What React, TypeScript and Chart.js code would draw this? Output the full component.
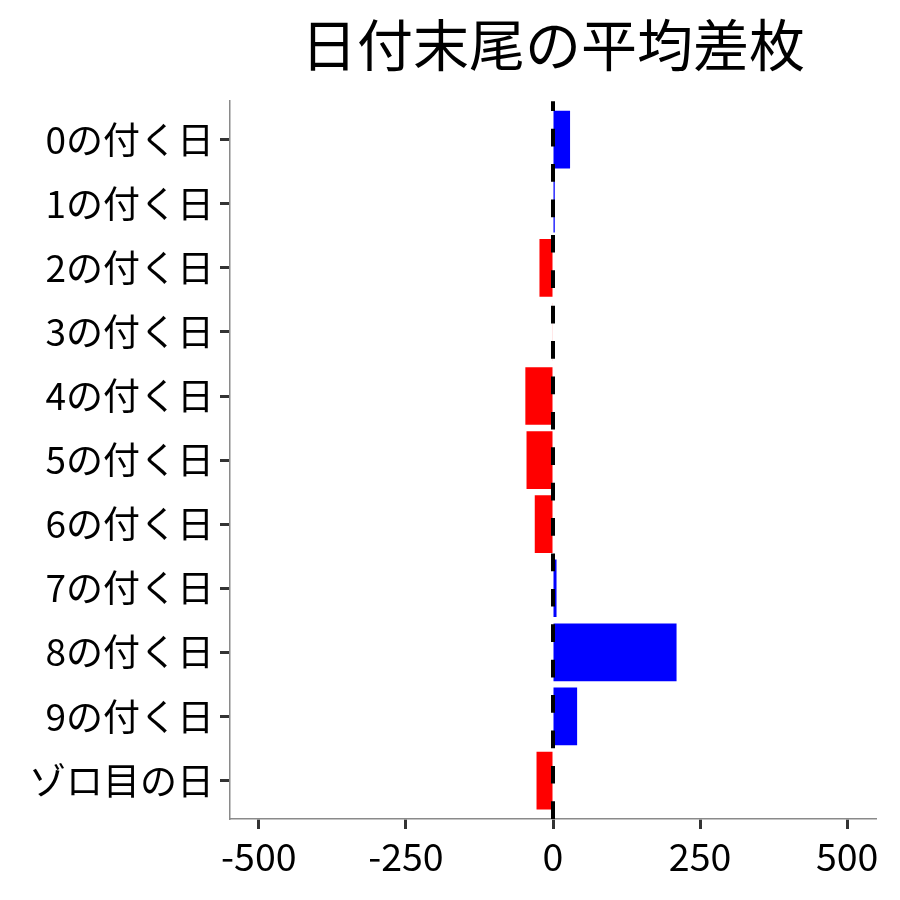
import React, { useEffect, useRef } from "react";
import { Chart, registerables } from "chart.js";

Chart.register(...registerables);

const TITLE = "日付末尾の平均差枚";
const categories = [
  "0の付く日",
  "1の付く日",
  "2の付く日",
  "3の付く日",
  "4の付く日",
  "5の付く日",
  "6の付く日",
  "7の付く日",
  "8の付く日",
  "9の付く日",
  "ゾロ目の日",
];
const values = [29, 3, -23, -1, -47, -45, -31, 6, 210, 41, -28];
const xTicks = [-500, -250, 0, 250, 500];

const FONT = "'Noto Sans CJK JP', 'Noto Sans', sans-serif";

const zeroLine = {
  id: "zeroLine",
  afterDatasetsDraw(chart: any) {
    const { ctx, chartArea, scales } = chart;
    const x = scales.x.getPixelForValue(0);
    ctx.save();
    ctx.strokeStyle = "#000000";
    ctx.lineWidth = 4;
    ctx.setLineDash([17.7, 17.7]);
    ctx.beginPath();
    ctx.moveTo(x, chartArea.bottom);
    ctx.lineTo(x, chartArea.top);
    ctx.stroke();
    ctx.restore();
  },
};

export default function App() {
  const ref = useRef<HTMLCanvasElement | null>(null);

  useEffect(() => {
    if (!ref.current) return;
    const data = values.map((v, i) => ({ x: v, y: i }));
    const chart = new Chart(ref.current, {
      type: "bar",
      data: {
        datasets: [
          {
            data: data as any,
            backgroundColor: values.map((v) => (v >= 0 ? "#0000FF" : "#FF0000")),
            borderWidth: 0,
            barPercentage: 0.9,
            categoryPercentage: 1,
          },
        ],
      },
      plugins: [zeroLine],
      options: {
        indexAxis: "y",
        animation: false,
        responsive: false,
        maintainAspectRatio: false,
        layout: { padding: { left: 0, right: 24, top: 0, bottom: 0 } },
        plugins: {
          legend: { display: false },
          tooltip: { enabled: false },
          title: {
            display: true,
            text: TITLE,
            fullSize: false,
            color: "#000000",
            font: { family: FONT, size: 56, weight: "normal" },
            padding: { top: 11, bottom: 23 },
          },
        },
        scales: {
          x: {
            type: "linear",
            min: -549,
            max: 549,
            afterBuildTicks: (scale: any) => {
              scale.ticks = xTicks.map((v) => ({ value: v }));
            },
            afterFit: (scale: any) => {
              scale.height = 81;
            },
            ticks: {
              color: "#000000",
              font: { family: FONT, size: 37.5 },
              padding: 5,
              maxRotation: 0,
              callback: (v: any) => String(v),
            },
            grid: {
              display: true,
              drawOnChartArea: false,
              drawTicks: true,
              tickLength: 10,
              tickWidth: 3,
              tickColor: "#333333",
            },
            border: { display: true, color: "#8a8a8a", width: 1.5 },
          },
          y: {
            type: "linear",
            reverse: true,
            offset: false,
            min: -0.6,
            max: categories.length - 1 + 0.6,
            afterBuildTicks: (scale: any) => {
              scale.ticks = categories.map((_, i) => ({ value: i }));
            },
            afterFit: (scale: any) => {
              scale.width = 230;
            },
            ticks: {
              color: "#000000",
              font: { family: FONT, size: 37 },
              padding: 6,
              callback: (v: any) => categories[v as number] ?? "",
            },
            grid: {
              display: true,
              offset: false,
              drawOnChartArea: false,
              drawTicks: true,
              tickLength: 10,
              tickWidth: 3,
              tickColor: "#333333",
            },
            border: { display: true, color: "#8a8a8a", width: 1.5 },
          },
        },
      },
    });
    return () => chart.destroy();
  }, []);

  return (
    <div style={{ position: "fixed", left: 0, top: 0, width: 900, height: 900, background: "#ffffff" }}>
      <canvas ref={ref} width={900} height={900} style={{ width: 900, height: 900 }} />
    </div>
  );
}
